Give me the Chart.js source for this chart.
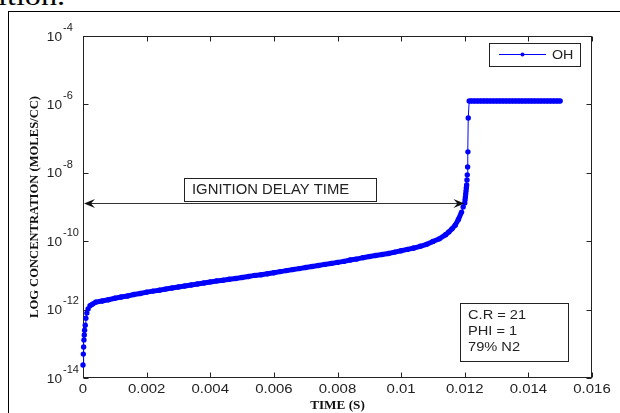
<!DOCTYPE html>
<html>
<head>
<meta charset="utf-8">
<script src="https://cdn.jsdelivr.net/npm/chart.js@4.4.1/dist/chart.umd.min.js"></script>
<style>
  html, body { margin: 0; padding: 0; background: #fff; overflow: hidden; }
  #wrap { position: relative; width: 620px; height: 413px; }
  #pageText { position: absolute; left: -2px; top: -20px; font: 28px "Liberation Serif", serif; color: #000;
              transform: scaleX(1.15); transform-origin: left top; white-space: nowrap; }
  #frame { position: absolute; left: 8px; top: 11px; width: 700px; height: 500px; border: 1.5px solid #000; }
  canvas { position: absolute; left: 0; top: 0; }
</style>
</head>
<body>
<div id="wrap">
  <div id="pageText">ition.</div>
  <div id="frame"></div>
  <canvas id="graphe" width="620" height="413"></canvas>
</div>
<script>
// OH concentration (moles/cc) vs time (s)
const timeS = [
  0, 0.00001, 0.00002, 0.00003, 0.00004, 0.00005, 0.00007, 0.00009, 0.00012, 0.00016, 0.00022, 0.0003, 0.0004,
  0.0006, 0.0008, 0.0010, 0.0012, 0.0014, 0.0016, 0.0018, 0.0020, 0.0022, 0.0024, 0.0026, 0.0028,
  0.0030, 0.0032, 0.0034, 0.0036, 0.0038, 0.0040, 0.0042, 0.0044, 0.0046, 0.0048,
  0.0050, 0.0052, 0.0054, 0.0056, 0.0058, 0.0060, 0.0062, 0.0064, 0.0066, 0.0068,
  0.0070, 0.0072, 0.0074, 0.0076, 0.0078, 0.0080, 0.0082, 0.0084, 0.0086, 0.0088,
  0.0090, 0.0092, 0.0094, 0.0096, 0.0098, 0.0100, 0.0102, 0.0104, 0.0106, 0.0108,
  0.0110, 0.0112, 0.0114, 0.0115, 0.0116, 0.0117, 0.0118, 0.0119, 0.01195,
  0.01200, 0.01201, 0.01202, 0.01203, 0.01204, 0.01205, 0.01206, 0.01207, 0.01208, 0.01209, 0.01210, 0.01211, 0.01214,
  0.0122, 0.0123, 0.0124, 0.0125, 0.0126, 0.0127, 0.0128, 0.0129, 0.0130, 0.0131,
  0.0132, 0.0133, 0.0134, 0.0135, 0.0136, 0.0137, 0.0138, 0.0139, 0.0140, 0.0141,
  0.0142, 0.0143, 0.0144, 0.0145, 0.0146, 0.0147, 0.0148, 0.0149, 0.0150
];
const ohConc = [
  2.4e-14, 5.0e-14, 8.1e-14, 1.3e-13, 1.8e-13, 2.5e-13, 3.5e-13, 5.6e-13, 7.9e-13, 1.05e-12, 1.3e-12, 1.45e-12, 1.65e-12,
  1.78e-12, 1.95e-12, 2.14e-12, 2.34e-12, 2.5e-12, 2.75e-12, 2.95e-12, 3.24e-12, 3.47e-12, 3.7e-12, 3.98e-12, 4.27e-12,
  4.57e-12, 4.9e-12, 5.25e-12, 5.6e-12, 6.0e-12, 6.45e-12, 6.9e-12, 7.25e-12, 7.75e-12, 8.1e-12,
  8.7e-12, 9.3e-12, 1.0e-11, 1.05e-11, 1.12e-11, 1.2e-11, 1.29e-11, 1.38e-11, 1.48e-11, 1.58e-11,
  1.7e-11, 1.82e-11, 1.95e-11, 2.1e-11, 2.24e-11, 2.4e-11, 2.57e-11, 2.82e-11, 3.0e-11, 3.3e-11,
  3.55e-11, 3.8e-11, 4.07e-11, 4.37e-11, 4.8e-11, 5.25e-11, 5.75e-11, 6.3e-11, 7.1e-11, 8.1e-11,
  9.8e-11, 1.17e-10, 1.55e-10, 1.86e-10, 2.3e-10, 2.95e-10, 4.3e-10, 7.1e-10, 1.0e-9,
  1.32e-9, 1.62e-9, 1.95e-9, 2.4e-9, 2.95e-9, 3.6e-9, 4.4e-9, 6.2e-9, 8.7e-9, 1.48e-8, 4.1e-8, 4.0e-7, 1.26e-6,
  1.26e-6, 1.26e-6, 1.26e-6, 1.26e-6, 1.26e-6, 1.26e-6, 1.26e-6, 1.26e-6, 1.26e-6, 1.26e-6,
  1.26e-6, 1.26e-6, 1.26e-6, 1.26e-6, 1.26e-6, 1.26e-6, 1.26e-6, 1.26e-6, 1.26e-6, 1.26e-6,
  1.26e-6, 1.26e-6, 1.26e-6, 1.26e-6, 1.26e-6, 1.26e-6, 1.26e-6, 1.26e-6, 1.26e-6
];
const xTickValues = [0, 0.002, 0.004, 0.006, 0.008, 0.01, 0.012, 0.014, 0.016];
const xTickLabels = ["0", "0.002", "0.004", "0.006", "0.008", "0.01", "0.012", "0.014", "0.016"];
const yTickExponents = [-14, -12, -10, -8, -6, -4];
const seriesName = "OH";
const xTitle = "TIME (S)";
const yTitle = "LOG CONCENTRATION (MOLES/CC)";
const delayLabel = "IGNITION DELAY TIME";
const delayStart = 0, delayEnd = 0.01199, delayLevel = 1.3e-9;
const infoLines = ["C.R = 21", "PHI = 1", "79% N2"];

const bleu = "#0000ff";
const ink = "#222";
const sans = '"Liberation Sans", Arial, sans-serif';
const serif = '"Liberation Serif", "Times New Roman", serif';

// text with a horizontal stretch (the reference is a bit widened)
function txt(ctx, s, x, y, font, align, sx, base) {
  ctx.save();
  ctx.font = font;
  ctx.textAlign = align || "left";
  ctx.textBaseline = base || "middle";
  ctx.translate(x, y);
  ctx.scale(sx || 1, 1);
  ctx.fillText(s, 0, 0);
  ctx.restore();
}

function arrowHead(ctx, tx, ty, dir) {
  ctx.beginPath();
  ctx.moveTo(tx, ty);
  ctx.lineTo(tx + dir * 11, ty - 4.5);
  ctx.lineTo(tx + dir * 7, ty);
  ctx.lineTo(tx + dir * 11, ty + 4.5);
  ctx.closePath();
  ctx.fill();
}

const axesBox = {
  id: "axesBox",
  beforeDatasetsDraw(chart) {
    const { ctx, chartArea: a, scales: { x, y } } = chart;
    ctx.save();
    ctx.strokeStyle = ink;
    ctx.lineWidth = 1;
    const L = Math.round(a.left) + 0.5, R = Math.round(a.right) - 0.5;
    const T = Math.round(a.top) + 0.5, B = Math.round(a.bottom) - 0.5;
    ctx.strokeRect(L, T, R - L, B - T);
    ctx.beginPath();
    xTickValues.forEach(v => {
      const px = Math.round(x.getPixelForValue(v)) + 0.5;
      ctx.moveTo(px, B); ctx.lineTo(px, B - 5);
      ctx.moveTo(px, T); ctx.lineTo(px, T + 5);
    });
    yTickExponents.forEach(e => {
      const py = Math.round(y.getPixelForValue(Math.pow(10, e))) + 0.5;
      ctx.moveTo(L, py); ctx.lineTo(L + 5, py);
      ctx.moveTo(R, py); ctx.lineTo(R - 5, py);
    });
    ctx.stroke();
    ctx.restore();
  },
  afterDraw(chart) {
    const { ctx, chartArea: a, scales: { x, y } } = chart;
    ctx.save();
    ctx.fillStyle = ink;
    // x tick labels
    xTickValues.forEach((v, i) => {
      txt(ctx, xTickLabels[i], x.getPixelForValue(v), a.bottom + 11, "13px " + sans, "center", 1.15);
    });
    // y tick labels 10^n
    yTickExponents.forEach(e => {
      const py = y.getPixelForValue(Math.pow(10, e));
      txt(ctx, "10", a.left - 21, py + 1, "13px " + sans, "right", 1.05);
      txt(ctx, "-" + Math.abs(e), a.left - 20, py - 8, "10.5px " + sans, "left", 1.05);
    });
    // axis titles
    ctx.fillStyle = "#111";
    txt(ctx, xTitle, (a.left + a.right) / 2, a.bottom + 28, "bold 12px " + serif, "center", 1.1);
    ctx.save();
    ctx.translate(35, (a.top + a.bottom) / 2);
    ctx.rotate(-Math.PI / 2);
    ctx.font = "bold 12px " + serif;
    const w = ctx.measureText(yTitle).width;
    txt(ctx, yTitle, 0, 0, "bold 12px " + serif, "center", 222 / w);
    ctx.restore();

    // ignition delay double arrow
    ctx.strokeStyle = "#333";
    ctx.fillStyle = "#111";
    ctx.lineWidth = 1;
    const ay = Math.round(y.getPixelForValue(delayLevel)) + 0.5;
    const ax0 = x.getPixelForValue(delayStart), ax1 = x.getPixelForValue(delayEnd);
    ctx.beginPath();
    ctx.moveTo(ax0 + 3, ay); ctx.lineTo(ax1 - 3, ay);
    ctx.stroke();
    arrowHead(ctx, ax0 + 1, ay, 1);
    arrowHead(ctx, ax1, ay, -1);

    // label box
    ctx.strokeStyle = ink;
    ctx.fillStyle = "#fff";
    ctx.fillRect(184, 178, 192, 23);
    ctx.strokeRect(184.5, 178.5, 192, 23);
    ctx.fillStyle = ink;
    txt(ctx, delayLabel, 192, 190.5, "14px " + sans, "left", 1.06);

    // info box
    ctx.fillStyle = "#fff";
    ctx.fillRect(460, 303, 108, 58);
    ctx.strokeRect(460.5, 303.5, 108, 58);
    ctx.fillStyle = ink;
    infoLines.forEach((s, i) => txt(ctx, s, 468, 316 + i * 16, "12.5px " + sans, "left", 1.17));

    // legend
    ctx.fillStyle = "#fff";
    ctx.fillRect(489, 43, 91, 23);
    ctx.strokeRect(489.5, 43.5, 91, 23);
    ctx.strokeStyle = bleu;
    ctx.beginPath();
    ctx.moveTo(499, 54.5); ctx.lineTo(546, 54.5);
    ctx.stroke();
    ctx.fillStyle = bleu;
    ctx.beginPath();
    ctx.arc(522.5, 54.5, 2, 0, Math.PI * 2);
    ctx.fill();
    ctx.fillStyle = ink;
    txt(ctx, seriesName, 552, 55.5, "13px " + sans, "left", 1.1);
    ctx.restore();
  }
};

const ctx = document.getElementById("graphe");
const chart = new Chart(ctx, {
  type: "line",
  data: {
    datasets: [{
      label: seriesName,
      data: timeS.map((t, i) => ({ x: t, y: ohConc[i] })),
      borderColor: bleu,
      backgroundColor: bleu,
      borderWidth: 1,
      // dense solver markers merge into a thick band where the steps are close
      segment: {
        borderWidth: c => (Math.abs(c.p1.x - c.p0.x) > 2 ? 5 : 1)
      },
      pointRadius: 2.7,
      pointBorderWidth: 0,
      pointBackgroundColor: bleu,
      pointStyle: "circle",
      tension: 0,
      clip: false
    }]
  },
  options: {
    responsive: false,
    animation: false,
    devicePixelRatio: 1,
    layout: { padding: { left: 83, right: 28, top: 36, bottom: 35 } },
    plugins: { legend: { display: false }, tooltip: { enabled: false } },
    scales: {
      x: {
        type: "linear", min: 0, max: 0.016,
        ticks: { display: false }, grid: { display: false, drawTicks: false }, border: { display: false }
      },
      y: {
        type: "logarithmic", min: 1e-14, max: 1e-4,
        ticks: { display: false }, grid: { display: false, drawTicks: false }, border: { display: false }
      }
    }
  },
  plugins: [axesBox]
});
</script>
</body>
</html>
